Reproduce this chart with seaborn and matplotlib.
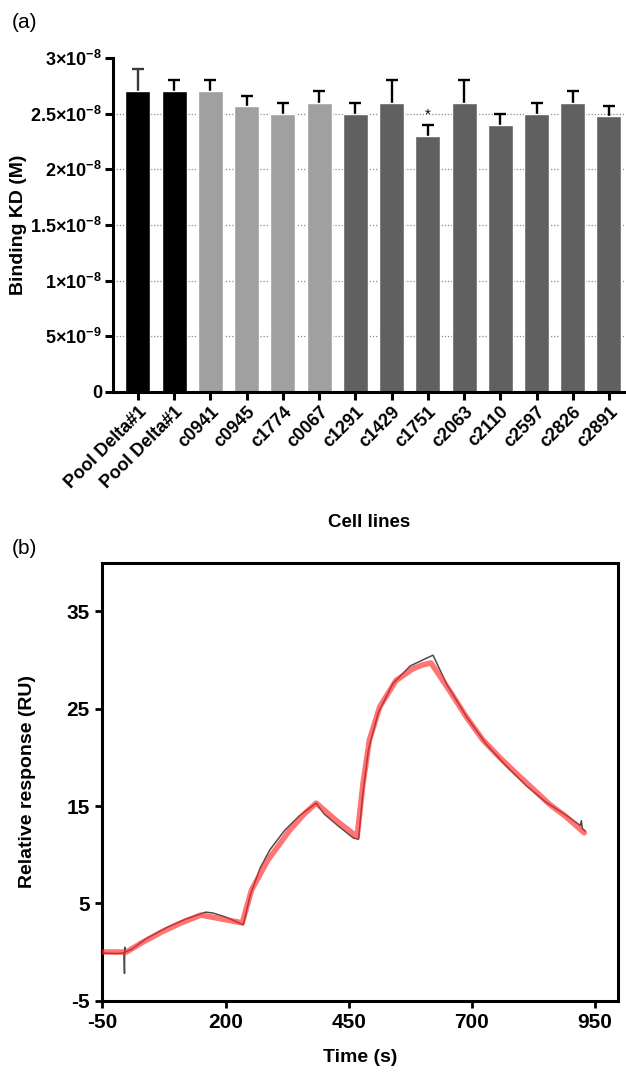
import matplotlib
matplotlib.use("Agg")
import matplotlib.pyplot as plt
import seaborn as sns
import pandas as pd
import numpy as np

# ---------------- data ----------------
cell_labels = ["Pool Delta#1", "Pool Delta#1", "c0941", "c0945", "c1774", "c0067",
               "c1291", "c1429", "c1751", "c2063", "c2110", "c2597", "c2826", "c2891"]
kd_values = [2.70e-8, 2.70e-8, 2.70e-8, 2.57e-8, 2.50e-8, 2.60e-8,
             2.50e-8, 2.60e-8, 2.30e-8, 2.60e-8, 2.40e-8, 2.50e-8, 2.60e-8, 2.48e-8]
kd_errors = [0.20e-8, 0.10e-8, 0.10e-8, 0.09e-8, 0.10e-8, 0.10e-8,
             0.10e-8, 0.20e-8, 0.10e-8, 0.20e-8, 0.10e-8, 0.10e-8, 0.10e-8, 0.09e-8]
bar_colors = ["#000000", "#000000", "#a0a0a0", "#a0a0a0", "#a0a0a0", "#a0a0a0",
              "#606060", "#606060", "#606060", "#606060", "#606060", "#606060", "#606060", "#606060"]
star_index = 8
y_ticks_a = [0, 5e-9, 1e-8, 1.5e-8, 2e-8, 2.5e-8, 3e-8]
y_ticklabels_a = ["0", "5×10$^{-9}$", "1×10$^{-8}$", "1.5×10$^{-8}$",
                  "2×10$^{-8}$", "2.5×10$^{-8}$", "3×10$^{-8}$"]

fit_t = [-50, -1, 30, 70, 110, 150, 234, 253, 286, 330, 360, 384, 425, 467,
         479, 492, 513, 546, 580, 600, 617, 654, 688, 722, 756, 790, 823, 857, 891, 928]
fit_y = [0, 0, 0.95, 2.05, 3.0, 3.8, 3.0, 6.4, 9.45, 12.5, 14.2, 15.3, 13.5, 11.85,
         17.3, 21.8, 25.2, 27.9, 29.1, 29.5, 29.7, 26.9, 24.2, 21.8, 20.0, 18.35, 16.8, 15.2, 13.9, 12.25]

meas_t = [-50, -20, -6, -5, -4.5, -3, 10, 40, 80, 120, 160, 175, 200, 236, 250, 270, 290,
          320, 350, 384, 400, 430, 460, 470, 478, 490, 510, 540, 575, 600, 621, 650, 690,
          730, 770, 810, 850, 890, 920, 922, 924, 930]
meas_y = [-0.1, -0.15, -0.1, -2.2, 0.5, 0.0, 0.3, 1.4, 2.5, 3.4, 4.1, 4.0, 3.6, 2.8, 5.8, 8.6,
          10.5, 12.5, 14.0, 15.3, 14.2, 12.9, 11.7, 11.6, 16.0, 20.8, 24.6, 27.6, 29.4, 30.0,
          30.5, 27.4, 24.1, 21.3, 19.1, 17.1, 15.4, 14.1, 13.0, 13.5, 12.7, 12.4]

x_ticks_b = [-50, 200, 450, 700, 950]
y_ticks_b = [-5, 5, 15, 25, 35]

# ---------------- style ----------------
sns.set_theme(style="white")
plt.rcParams["font.family"] = ["Liberation Sans", "DejaVu Sans"]
plt.rcParams["mathtext.fontset"] = "custom"
plt.rcParams["mathtext.rm"] = "Liberation Sans:bold"
plt.rcParams["mathtext.it"] = "Liberation Sans:bold"
plt.rcParams["mathtext.bf"] = "Liberation Sans:bold"
plt.rcParams["mathtext.default"] = "rm"
for k in ["text.color", "axes.labelcolor", "xtick.color", "ytick.color"]:
    plt.rcParams[k] = "black"

fig = plt.figure(figsize=(6.26, 10.81), dpi=100)

# ---------------- panel (a) ----------------
ax1 = fig.add_axes([113/626, 1-392/1081, (626-113)/626, 334/1081])
keys = [str(i) for i in range(len(cell_labels))]
df_a = pd.DataFrame({"key": keys, "kd": kd_values})
sns.barplot(data=df_a, x="key", y="kd", hue="key", palette=bar_colors, legend=False,
            width=0.69, saturation=1, ax=ax1, zorder=2)
pos = np.arange(len(keys))
err_cols = ["#3a3a3a"] + ["#000000"] * (len(keys) - 1)
for i in range(len(keys)):
    _, caps, _ = ax1.errorbar(pos[i], kd_values[i], yerr=[[0], [kd_errors[i]]], fmt="none",
                              ecolor=err_cols[i], elinewidth=1.7, capsize=4.5,
                              capthick=1.7, zorder=1.5)
    for c in caps:
        if abs(float(np.ravel(c.get_ydata())[0]) - kd_values[i]) < 1e-12:
            c.set_visible(False)
ax1.text(pos[star_index], kd_values[star_index] + kd_errors[star_index] + 0.03e-8, "*",
         ha="center", va="bottom", fontsize=11, color="black")
ax1.set_xlim(-0.69, len(keys) - 0.53)
ax1.set_ylim(0, 3e-8)
ax1.set_yticks(y_ticks_a)
ax1.set_yticklabels(y_ticklabels_a, fontweight="bold", fontsize=13)
ax1.set_xticks(pos)
ax1.set_xticklabels(cell_labels, rotation=45, ha="right", rotation_mode="anchor",
                    fontweight="bold", fontsize=13)
ax1.yaxis.grid(True, linestyle=(0, (1, 1.5)), color="#888888", linewidth=0.9)
ax1.set_axisbelow(True)
gl = ax1.yaxis.get_gridlines()
gl[0].set_visible(False)
gl[-1].set_visible(False)
for s in ["top", "right"]:
    ax1.spines[s].set_visible(False)
for s in ["left", "bottom"]:
    ax1.spines[s].set_linewidth(2.2)
    ax1.spines[s].set_color("black")
ax1.tick_params(axis="both", direction="out", length=6, width=2.2, color="black",
                left=True, bottom=True, pad=2)
ax1.set_xlabel("Cell lines", fontweight="bold", fontsize=13.5, labelpad=16)
ax1.set_ylabel("Binding KD (M)", fontweight="bold", fontsize=14, labelpad=2)
fig.text(12/626, 1-22/1081, "(a)", fontsize=15, ha="left", va="center")

# ---------------- panel (b) ----------------
ax2 = fig.add_axes([102.3/626, 1-1000.7/1081, 516/626, 438/1081])
df_meas = pd.DataFrame({"t": meas_t, "y": meas_y})
df_fit = pd.DataFrame({"t": fit_t, "y": fit_y})
sns.lineplot(data=df_meas, x="t", y="y", sort=False, estimator=None, color="#4a4a4a",
             linewidth=1.1, ax=ax2, zorder=2)
sns.lineplot(data=df_fit, x="t", y="y", sort=False, estimator=None, color="#ff2a2a",
             alpha=0.65, linewidth=4.0, ax=ax2, zorder=3, solid_capstyle="round",
             solid_joinstyle="round")
ax2.set_xlim(-50, 997)
ax2.set_ylim(-5, 40)
ax2.set_xticks(x_ticks_b)
ax2.set_yticks(y_ticks_b)
ax2.set_xticklabels([str(v) for v in x_ticks_b], fontweight="bold", fontsize=15)
ax2.set_yticklabels([str(v) for v in y_ticks_b], fontweight="bold", fontsize=15)
for s in ax2.spines.values():
    s.set_linewidth(2.2)
    s.set_color("black")
ax2.tick_params(axis="both", direction="out", length=5, width=2.0, color="black",
                left=True, bottom=True, pad=4)
ax2.set_xlabel("Time (s)", fontweight="bold", fontsize=14, labelpad=12)
ax2.set_ylabel("Relative response (RU)", fontweight="bold", fontsize=14, labelpad=22)
fig.text(12/626, 1-548/1081, "(b)", fontsize=15, ha="left", va="center")

fig.savefig("out.png", dpi=100)
